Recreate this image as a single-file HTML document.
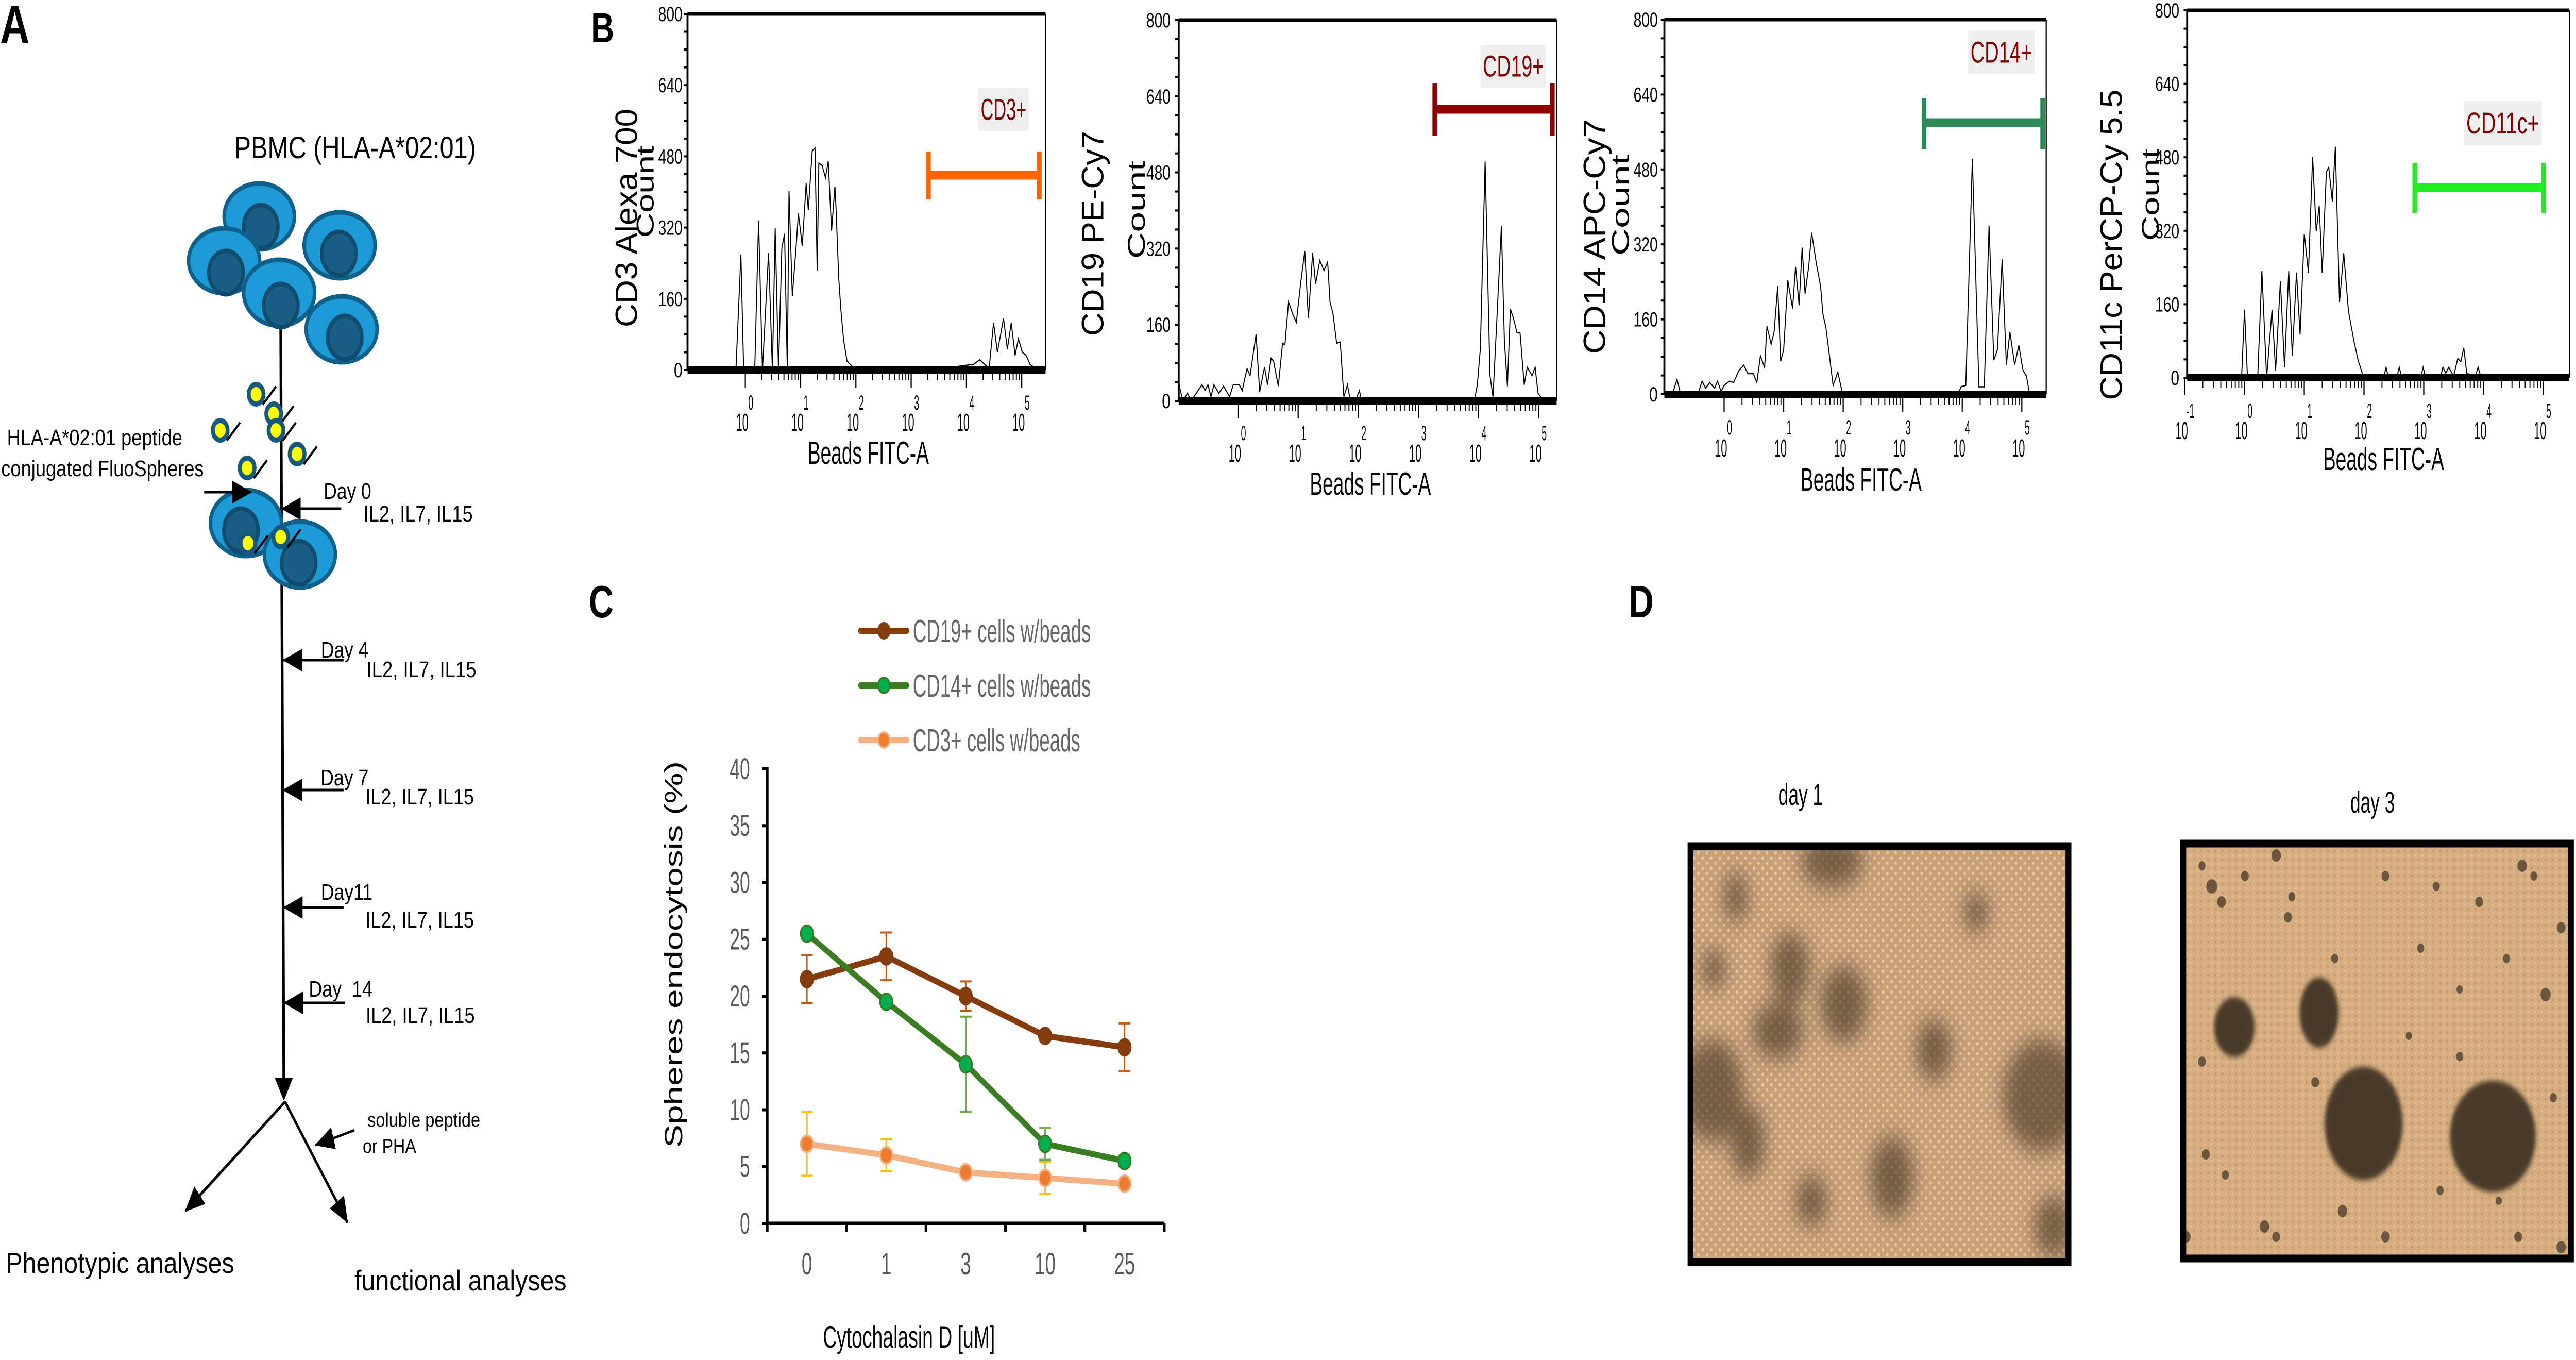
<!DOCTYPE html>
<html><head><meta charset="utf-8"><style>
html,body{margin:0;padding:0;background:#fff;overflow:hidden;width:100%;height:100%}
svg{display:block;width:100vw;height:100vh}
text{font-family:"Liberation Sans",sans-serif}
</style></head><body>
<svg id="fig" xmlns="http://www.w3.org/2000/svg" viewBox="0 0 6598 2639" preserveAspectRatio="none">
<defs>
<marker id="arr" markerUnits="userSpaceOnUse" markerWidth="50" markerHeight="44" refX="48" refY="22" orient="auto"><path d="M0,0 L50,22 L0,44 Z" fill="#000"/></marker>
<filter id="blur1" x="-50%" y="-50%" width="200%" height="200%"><feGaussianBlur stdDeviation="22"/></filter>
<filter id="blur2" x="-50%" y="-50%" width="200%" height="200%"><feGaussianBlur stdDeviation="5"/></filter>
<pattern id="dots1" width="22" height="20" patternUnits="userSpaceOnUse"><circle cx="5" cy="5" r="3.5" fill="#f3d39c" opacity="0.85"/><circle cx="16" cy="15" r="3.5" fill="#f0cf98" opacity="0.8"/></pattern>
<pattern id="dots3" width="18" height="16" patternUnits="userSpaceOnUse"><circle cx="4" cy="4" r="3" fill="#b58c62" opacity="0.55"/><circle cx="13" cy="12" r="2.5" fill="#e8c79a" opacity="0.7"/></pattern>
<clipPath id="clipD1"><rect x="4330" y="1642" width="968" height="807"/></clipPath>
<clipPath id="clipD3"><rect x="5592" y="1637" width="993" height="805"/></clipPath>
</defs>

<text x="0" y="84" font-size="105" font-weight="bold">A</text>
<text x="1514" y="82" font-size="82" font-weight="bold">B</text>
<text x="1508" y="1198" font-size="88" font-weight="bold">C</text>
<text x="4172" y="1198" font-size="88" font-weight="bold">D</text>

<g id="panelA">
<text x="600" y="307" font-size="60" textLength="619" lengthAdjust="spacingAndGlyphs">PBMC (HLA-A*02:01)</text>
<line x1="719" y1="620" x2="727" y2="2100" stroke="#000" stroke-width="7"/>
<path d="M704,2092 L750,2092 L727,2136 Z" fill="#000"/>
<g stroke-width="9">
<ellipse cx="664" cy="420" rx="90" ry="64" fill="#1c9bd7" stroke="#10608c"/><ellipse cx="668" cy="440" rx="44" ry="42" fill="#1a5e85" stroke="#0f4c6e"/>
<ellipse cx="574" cy="506" rx="91" ry="63" fill="#1c9bd7" stroke="#10608c"/><ellipse cx="579" cy="529" rx="44" ry="42" fill="#1a5e85" stroke="#0f4c6e"/>
<ellipse cx="870" cy="476" rx="91" ry="64" fill="#1c9bd7" stroke="#10608c"/><ellipse cx="868" cy="492" rx="44" ry="42" fill="#1a5e85" stroke="#0f4c6e"/>
<ellipse cx="715" cy="568" rx="91" ry="64" fill="#1c9bd7" stroke="#10608c"/><ellipse cx="719" cy="593" rx="44" ry="42" fill="#1a5e85" stroke="#0f4c6e"/>
<ellipse cx="875" cy="639" rx="91" ry="64" fill="#1c9bd7" stroke="#10608c"/><ellipse cx="883" cy="655" rx="44" ry="42" fill="#1a5e85" stroke="#0f4c6e"/>
<ellipse cx="630" cy="1015" rx="91" ry="64" fill="#1c9bd7" stroke="#10608c"/><ellipse cx="617" cy="1029" rx="44" ry="42" fill="#1a5e85" stroke="#0f4c6e"/>
<ellipse cx="768" cy="1076" rx="91" ry="64" fill="#1c9bd7" stroke="#10608c"/><ellipse cx="765" cy="1092" rx="44" ry="42" fill="#1a5e85" stroke="#0f4c6e"/>
</g>
<g>
<g transform="translate(656,765)"><circle r="24" fill="#17587d"/><circle r="14" fill="#ffff00"/><line x1="17" y1="20" x2="51" y2="-15" stroke="#000" stroke-width="5"/></g>
<g transform="translate(701,803)"><circle r="24" fill="#17587d"/><circle r="14" fill="#ffff00"/><line x1="17" y1="20" x2="51" y2="-15" stroke="#000" stroke-width="5"/></g>
<g transform="translate(707,835)"><circle r="24" fill="#17587d"/><circle r="14" fill="#ffff00"/><line x1="17" y1="20" x2="51" y2="-15" stroke="#000" stroke-width="5"/></g>
<g transform="translate(564,835)"><circle r="24" fill="#17587d"/><circle r="14" fill="#ffff00"/><line x1="17" y1="20" x2="51" y2="-15" stroke="#000" stroke-width="5"/></g>
<g transform="translate(761,881)"><circle r="24" fill="#17587d"/><circle r="14" fill="#ffff00"/><line x1="17" y1="20" x2="51" y2="-15" stroke="#000" stroke-width="5"/></g>
<g transform="translate(633,908)"><circle r="24" fill="#17587d"/><circle r="14" fill="#ffff00"/><line x1="17" y1="20" x2="51" y2="-15" stroke="#000" stroke-width="5"/></g>
<g transform="translate(635,1054)"><circle r="24" fill="#17587d"/><circle r="14" fill="#ffff00"/><line x1="17" y1="20" x2="51" y2="-15" stroke="#000" stroke-width="5"/></g>
<g transform="translate(719,1042)"><circle r="24" fill="#17587d"/><circle r="14" fill="#ffff00"/><line x1="17" y1="20" x2="51" y2="-15" stroke="#000" stroke-width="5"/></g>
</g>
<text x="18" y="864" font-size="44" textLength="449" lengthAdjust="spacingAndGlyphs">HLA-A*02:01 peptide</text>
<text x="3" y="924" font-size="44" textLength="519" lengthAdjust="spacingAndGlyphs">conjugated FluoSpheres</text>
<line x1="523" y1="955" x2="643" y2="955" stroke="#000" stroke-width="5" marker-end="url(#arr)"/>

<g>
<line x1="874" y1="987" x2="722" y2="987" stroke="#000" stroke-width="5" marker-end="url(#arr)"/>
<text x="829" y="968" font-size="44" textLength="122" lengthAdjust="spacingAndGlyphs">Day 0</text>
<text x="931" y="1012" font-size="44" textLength="280" lengthAdjust="spacingAndGlyphs">IL2, IL7, IL15</text></g>
<g>
<line x1="880" y1="1281" x2="726" y2="1281" stroke="#000" stroke-width="5" marker-end="url(#arr)"/>
<text x="822" y="1276" font-size="44" textLength="122" lengthAdjust="spacingAndGlyphs">Day 4</text>
<text x="939" y="1314" font-size="44" textLength="281" lengthAdjust="spacingAndGlyphs">IL2, IL7, IL15</text></g>
<g>
<line x1="880" y1="1533" x2="726" y2="1533" stroke="#000" stroke-width="5" marker-end="url(#arr)"/>
<text x="821" y="1524" font-size="44" textLength="123" lengthAdjust="spacingAndGlyphs">Day 7</text>
<text x="936" y="1561" font-size="44" textLength="278" lengthAdjust="spacingAndGlyphs">IL2, IL7, IL15</text></g>
<g>
<line x1="880" y1="1761" x2="727" y2="1761" stroke="#000" stroke-width="5" marker-end="url(#arr)"/>
<text x="822" y="1746" font-size="44" textLength="132" lengthAdjust="spacingAndGlyphs">Day11</text>
<text x="936" y="1800" font-size="44" textLength="278" lengthAdjust="spacingAndGlyphs">IL2, IL7, IL15</text></g>
<g>
<line x1="884" y1="1946" x2="728" y2="1946" stroke="#000" stroke-width="5" marker-end="url(#arr)"/>
<text x="791" y="1934" font-size="44" textLength="163" lengthAdjust="spacingAndGlyphs" xml:space="preserve">Day  14</text>
<text x="937" y="1985" font-size="44" textLength="279" lengthAdjust="spacingAndGlyphs">IL2, IL7, IL15</text></g>

<line x1="730" y1="2138" x2="475" y2="2350" stroke="#000" stroke-width="6" marker-end="url(#arr)"/>
<line x1="730" y1="2138" x2="890" y2="2372" stroke="#000" stroke-width="6" marker-end="url(#arr)"/>
<line x1="908" y1="2193" x2="808" y2="2222" stroke="#000" stroke-width="5" marker-end="url(#arr)"/>
<text x="941" y="2186" font-size="38" textLength="289" lengthAdjust="spacingAndGlyphs">soluble peptide</text>
<text x="929" y="2237" font-size="38" textLength="137" lengthAdjust="spacingAndGlyphs">or PHA</text>
<text x="15" y="2470" font-size="56" textLength="585" lengthAdjust="spacingAndGlyphs">Phenotypic analyses</text>
<text x="908" y="2504" font-size="56" textLength="543" lengthAdjust="spacingAndGlyphs">functional analyses</text>
</g>

<g id="panelB"></g>
<g id="panelC"></g>

<g id="panelD">
<text x="4612" y="1562" font-size="58" text-anchor="middle" textLength="114" lengthAdjust="spacingAndGlyphs">day 1</text>
<text x="6077" y="1577" font-size="58" text-anchor="middle" textLength="114" lengthAdjust="spacingAndGlyphs">day 3</text>
<g clip-path="url(#clipD1)">
<rect x="4323" y="1635" width="982" height="821" fill="#c9a07c"/>
<rect x="4323" y="1635" width="982" height="821" fill="url(#dots1)"/>
<g filter="url(#blur1)" fill="#3e3024" opacity="0.6">
<ellipse cx="4692" cy="1672" rx="80" ry="50"/><ellipse cx="4723" cy="1948" rx="60" ry="75"/>
<ellipse cx="4585" cy="1879" rx="50" ry="70"/><ellipse cx="4554" cy="2000" rx="65" ry="55"/>
<ellipse cx="4385" cy="2116" rx="80" ry="100"/><ellipse cx="4477" cy="2215" rx="45" ry="70"/>
<ellipse cx="4846" cy="2284" rx="55" ry="80"/><ellipse cx="5230" cy="2126" rx="100" ry="110"/>
<ellipse cx="4954" cy="2037" rx="45" ry="60"/><ellipse cx="5062" cy="1770" rx="30" ry="40"/>
<ellipse cx="4446" cy="1741" rx="30" ry="50"/><ellipse cx="4640" cy="2330" rx="40" ry="50"/>
<ellipse cx="5260" cy="2380" rx="50" ry="60"/><ellipse cx="4390" cy="1880" rx="30" ry="40"/>
</g></g>
<rect x="4330" y="1642" width="968" height="807" fill="none" stroke="#000" stroke-width="15"/>
<g clip-path="url(#clipD3)">
<rect x="5585" y="1630" width="1010" height="819" fill="#d6ae80"/>
<rect x="5585" y="1630" width="1010" height="819" fill="url(#dots3)"/>
<g filter="url(#blur2)" fill="#4a3a2b">
<ellipse cx="5723" cy="1993" rx="52" ry="58"/><ellipse cx="5940" cy="1965" rx="50" ry="68"/>
<ellipse cx="6054" cy="2180" rx="100" ry="110"/><ellipse cx="6385" cy="2205" rx="110" ry="108"/>
</g>
<g fill="#5a4634" opacity="0.85">
<circle cx="5665" cy="1720" r="14"/><circle cx="5690" cy="1750" r="11"/><circle cx="5750" cy="1700" r="10"/><circle cx="5830" cy="1660" r="12"/><circle cx="5860" cy="1780" r="10"/><circle cx="5870" cy="1740" r="9"/><circle cx="5640" cy="1680" r="9"/><circle cx="6110" cy="1700" r="10"/><circle cx="6240" cy="1720" r="9"/><circle cx="6350" cy="1750" r="10"/><circle cx="6460" cy="1680" r="12"/><circle cx="6490" cy="1700" r="9"/><circle cx="6560" cy="1800" r="11"/><circle cx="6420" cy="1860" r="9"/><circle cx="6520" cy="1930" r="13"/><circle cx="6200" cy="1840" r="9"/><circle cx="6300" cy="1920" r="8"/><circle cx="5640" cy="2060" r="10"/><circle cx="5650" cy="2240" r="10"/><circle cx="5700" cy="2280" r="9"/><circle cx="5800" cy="2380" r="12"/><circle cx="5830" cy="2400" r="10"/><circle cx="5600" cy="2400" r="11"/><circle cx="6000" cy="2350" r="12"/><circle cx="6110" cy="2400" r="11"/><circle cx="6250" cy="2310" r="9"/><circle cx="6450" cy="2400" r="10"/><circle cx="6560" cy="2420" r="12"/><circle cx="6540" cy="2130" r="9"/><circle cx="5930" cy="2100" r="10"/><circle cx="6170" cy="2010" r="8"/><circle cx="6300" cy="2050" r="9"/><circle cx="5980" cy="1860" r="9"/><circle cx="6400" cy="2330" r="8"/>
</g></g>
<rect x="5592" y="1637" width="993" height="805" fill="none" stroke="#000" stroke-width="15"/>
</g>
</svg>

<script>
const NS = 'http://www.w3.org/2000/svg';
function mk(parent, tag, attrs, txt){
  const el = document.createElementNS(NS, tag);
  for (const k in attrs) el.setAttribute(k, attrs[k]);
  if (txt !== undefined) el.textContent = txt;
  parent.appendChild(el);
  return el;
}

const cd3Log = [-0.17,-0.08,-0.03,0.17,0.24,0.31,0.42,0.49,0.54,0.60,0.66,0.71,0.76,0.79,0.85,0.92,0.96,1.03,1.10,1.14,1.21,1.26,1.30,1.33,1.39,1.45,1.50,1.56,1.62,1.64,1.69,1.73,1.78,1.84,1.92,1.98,3.79,4.13,4.24,4.41,4.49,4.56,4.67,4.74,4.81,4.88,4.94,5.01,5.08,5.15,5.21,5.26];
const cd3Count = [0,259,0,0,336,0,263,0,319,0,273,306,0,402,166,279,352,279,419,359,492,499,223,465,459,432,469,313,412,366,206,133,66,20,10,0,7,13,23,3,106,40,116,47,106,33,70,40,33,13,7,0];
const cd19Log = [-0.99,-0.92,-0.84,-0.78,-0.6,-0.55,-0.5,-0.45,-0.4,-0.32,-0.24,-0.14,-0.08,0.02,0.07,0.15,0.2,0.3,0.36,0.44,0.49,0.55,0.59,0.67,0.74,0.78,0.84,0.91,0.97,1.04,1.11,1.17,1.24,1.29,1.36,1.43,1.49,1.53,1.58,1.64,1.7,1.76,1.82,1.86,1.95,2.02,2.05,3.93,3.98,4.03,4.11,4.19,4.24,4.3,4.38,4.43,4.48,4.53,4.58,4.64,4.69,4.76,4.81,4.89,4.94,4.99,5.05];
const cd19Count = [40,0,16,0,34,22,34,9,34,16,31,9,34,34,22,68,53,140,19,71,34,90,84,31,121,118,208,183,165,246,314,174,311,246,295,274,292,208,183,121,124,9,34,6,0,22,0,0,34,109,503,53,9,159,367,127,31,193,174,143,143,34,71,53,71,16,6];
const cd14Log = [-1.0,-0.87,-0.79,-0.73,-0.44,-0.37,-0.31,-0.24,-0.16,-0.11,-0.05,0,0.09,0.16,0.25,0.33,0.4,0.49,0.55,0.61,0.68,0.72,0.79,0.84,0.9,0.95,1.0,1.07,1.15,1.2,1.26,1.31,1.36,1.42,1.47,1.55,1.62,1.66,1.71,1.77,1.83,1.91,1.99,3.93,3.98,4.06,4.17,4.28,4.37,4.45,4.53,4.59,4.67,4.74,4.8,4.88,4.95,5.02,5.08,5.13];
const cd14Count = [0,0,32,0,0,28,13,25,13,28,6,19,28,25,51,62,44,44,25,82,57,145,107,133,231,70,95,243,183,272,190,313,215,272,345,278,231,171,142,82,19,47,0,0,16,19,503,16,16,360,73,95,288,63,133,63,104,51,38,0];
const cd11cLog = [-0.05,0,0.05,0.22,0.29,0.37,0.46,0.52,0.6,0.67,0.74,0.8,0.87,0.93,1.0,1.07,1.14,1.2,1.25,1.3,1.37,1.41,1.47,1.52,1.59,1.66,1.74,1.83,1.9,1.98,2.07,2.33,2.37,2.41,2.55,2.59,2.63,2.95,2.99,3.03,3.28,3.32,3.37,3.42,3.5,3.57,3.62,3.67,3.72,3.86,3.91,3.96];
const cd11cCount = [0,148,0,0,232,0,148,16,210,23,232,48,229,94,313,229,481,319,374,229,448,458,384,503,165,271,145,81,39,6,0,0,23,0,0,23,0,0,23,0,0,23,10,23,3,42,35,65,10,0,23,0];
const yTicks = [0,160,320,480,640,800];

const panels = [
 {name:'cd3', logs:cd3Log, counts:cd3Count, L:1761,R:2678,T:27,B:718,x0:1909,dec:141.6,dmin:0,dmax:5,lblY:818,supY:781,tY:878,tX:2224,
  yt:'CD3 Alexa 700', ytX:1604, ytY:423, ytLen:424, cX:1652, cY:372, cLen:179, tickX:1748,
  gate:{x1:2378,x2:2662,y:340,c1:294,c2:387,col:'#ff6600'}, box:{x:2506,y:171,w:129,h:83,t:'CD3+'}},
 {name:'cd19', logs:cd19Log, counts:cd19Count, L:3019,R:3987,T:39,B:778,x0:3171,dec:154,dmin:0,dmax:5,lblY:878,supY:840,tY:938,tX:3510,
  yt:'CD19 PE-Cy7', ytX:2798, ytY:453, ytLen:398, cX:2910, cY:407, cLen:190, tickX:2998,
  gate:{x1:3675,x2:3976,y:212,c1:162,c2:263,col:'#8b0000'}, box:{x:3792,y:87,w:168,h:83,t:'CD19+'}},
 {name:'cd14', logs:cd14Log, counts:cd14Count, L:4263,R:5241,T:38,B:765,x0:4416,dec:152.5,dmin:0,dmax:5,lblY:868,supY:829,tY:930,tX:4767,
  yt:'CD14 APC-Cy7', ytX:4083, ytY:459, ytLen:456, cX:4150, cY:398, cLen:196, tickX:4246,
  gate:{x1:4928,x2:5232,y:238,c1:190,c2:289,col:'#2e8b57'}, box:{x:5041,y:59,w:170,h:85,t:'CD14+'}},
 {name:'cd11c', logs:cd11cLog, counts:cd11cCount, L:5602,R:6581,T:20,B:733,x0:5749,dec:153,dmin:-1,dmax:5,lblY:834,supY:797,tY:890,tX:6105,
  yt:'CD11c PerCP-Cy 5.5', ytX:5407, ytY:475, ytLen:603, cX:5507, cY:378, cLen:178, tickX:5582,
  gate:{x1:6185,x2:6515,y:364,c1:316,c2:413,col:'#22ee22'}, box:{x:6311,y:196,w:199,h:86,t:'CD11c+'}}
];

const gB = document.getElementById('panelB');
panels.forEach(p => {
  const g = mk(gB, 'g', {});
  
  
  const xs = v => p.x0 + v * p.dec;
  const ys = c => p.B - c / 800 * (p.B - p.T);
  const pts = p.logs.map((v, i) => xs(v).toFixed(1) + ',' + ys(p.counts[i]).toFixed(1)).join(' ');
  const pl = mk(g, 'polyline', {points: pts, fill: 'none', stroke: '#000', 'stroke-width': 2.5});
  
  
  mk(g, 'line', {x1:p.L, y1:p.T, x2:p.R, y2:p.T, stroke:'#000', 'stroke-width':7});
  mk(g, 'line', {x1:p.L, y1:p.T, x2:p.L, y2:p.B, stroke:'#000', 'stroke-width':5});
  mk(g, 'line', {x1:p.R, y1:p.T, x2:p.R, y2:p.B, stroke:'#000', 'stroke-width':3});
  const base = mk(g, 'line', {x1:p.L, y1:p.B, x2:p.R, y2:p.B, stroke:'#000', 'stroke-width':14});
  
  
  for (let c = 0; c <= 800; c += 40) {
    mk(g, 'line', {x1:p.L-9, y1:ys(c), x2:p.L, y2:ys(c), stroke:'#000', 'stroke-width':4});
  }
  yTicks.forEach(c => {
    const t = mk(g, 'text', {x:p.tickX, y:ys(c)+14, 'font-size':40, 'text-anchor':'end', textLength: c===0?22:62, lengthAdjust:'spacingAndGlyphs'}, String(c));
    
    
  });
  for (let d = p.dmin; d <= p.dmax; d++) {
    const x = xs(d);
    mk(g, 'line', {x1:x, y1:p.B, x2:x, y2:p.B+34, stroke:'#000', 'stroke-width':3});
    if (d < p.dmax) for (let m = 2; m <= 9; m++) {
      const xm = xs(d + Math.log10(m));
      mk(g, 'line', {x1:xm, y1:p.B, x2:xm, y2:p.B+20, stroke:'#000', 'stroke-width':2.5});
    }
    const t = mk(g, 'text', {x:x-8, y:p.lblY+18, 'font-size':48, 'text-anchor':'middle', textLength:32, lengthAdjust:'spacingAndGlyphs'}, '10');
    
    
    mk(g, 'text', {x:x+14, y:p.supY+14, 'font-size':40, 'text-anchor':'middle', textLength: d<0?22:13, lengthAdjust:'spacingAndGlyphs'}, String(d));
  }
  const xt = mk(g, 'text', {x:p.tX, y:p.tY+22, 'font-size':62, 'text-anchor':'middle', textLength:310, lengthAdjust:'spacingAndGlyphs'}, 'Beads FITC-A');
  
  
  const yt = mk(g, 'text', {transform:`translate(${p.ytX},${p.ytY}) rotate(-90)`, x:0, y:28, 'font-size':80, 'text-anchor':'middle', textLength:p.ytLen, lengthAdjust:'spacingAndGlyphs'}, p.yt);
  
  
  const ct = mk(g, 'text', {transform:`translate(${p.cX},${p.cY}) rotate(-90)`, x:0, y:22, 'font-size':62, 'text-anchor':'middle', textLength:p.cLen, lengthAdjust:'spacingAndGlyphs'}, 'Count');
  
  
  const G = p.gate;
  const gg = mk(g, 'g', {stroke:G.col});
  
  
  mk(gg, 'line', {x1:G.x1, y1:G.y, x2:G.x2, y2:G.y, 'stroke-width':17});
  mk(gg, 'line', {x1:G.x1, y1:G.c1, x2:G.x1, y2:G.c2, 'stroke-width':12});
  mk(gg, 'line', {x1:G.x2, y1:G.c1, x2:G.x2, y2:G.c2, 'stroke-width':12});
  const b = p.box;
  mk(g, 'rect', {x:b.x, y:b.y, width:b.w, height:b.h, fill:'#efefef'});
  const bt = mk(g, 'text', {x:b.x+b.w/2, y:b.y+b.h/2+20, 'font-size':58, 'text-anchor':'middle', fill:'#800000', textLength:b.w-12, lengthAdjust:'spacingAndGlyphs'}, b.t);
  
  
});

const doseLabels = ['0','1','3','10','25'];
const cd19Vals = [21.5,23.5,20,16.5,15.5];
const cd19Err  = [2.1,2.1,1.3,0.3,2.1];
const cd14Vals = [25.5,19.5,14,7,5.5];
const cd14Err  = [0,0,4.2,1.4,0.5];
const cd3Vals  = [7,6,4.5,4,3.5];
const cd3Err   = [2.8,1.4,0.3,1.4,0.3];
const cYTicks  = [0,5,10,15,20,25,30,35,40];

(function(){
  const g = document.getElementById('panelC');
  const AX = 1965, AR = 2982, Y0 = 2374, YMAX = 40, YTOP = 1492;
  const slot = (AR - AX) / doseLabels.length;
  const xC = i => AX + slot * (i + 0.5);
  const yC = v => Y0 - v / YMAX * (Y0 - YTOP);
  const ya = mk(g, 'line', {x1:AX, y1:YTOP-4, x2:AX, y2:Y0+4, stroke:'#000', 'stroke-width':7});
  
  
  const xa = mk(g, 'line', {x1:AX-4, y1:Y0, x2:AR, y2:Y0, stroke:'#000', 'stroke-width':7});
  
  
  cYTicks.forEach(v => {
    mk(g, 'line', {x1:AX-13, y1:yC(v), x2:AX, y2:yC(v), stroke:'#000', 'stroke-width':6});
    const t = mk(g, 'text', {x:1921, y:yC(v)+20, 'font-size':58, fill:'#595959', 'text-anchor':'end', textLength: v<10?26:52, lengthAdjust:'spacingAndGlyphs'}, String(v));
    
    
  });
  for (let i = 0; i <= doseLabels.length; i++) {
    mk(g, 'line', {x1:AX+slot*i, y1:Y0, x2:AX+slot*i, y2:Y0+16, stroke:'#000', 'stroke-width':7});
  }
  doseLabels.forEach((l, i) => {
    const t = mk(g, 'text', {x:xC(i), y:2473, 'font-size':60, fill:'#595959', 'text-anchor':'middle', textLength: l.length*27, lengthAdjust:'spacingAndGlyphs'}, l);
    
    
  });
  const xt = mk(g, 'text', {x:2328, y:2615, 'font-size':60, 'text-anchor':'middle', textLength:441, lengthAdjust:'spacingAndGlyphs'}, 'Cytochalasin D [uM]');
  
  
  const yt = mk(g, 'text', {transform:'translate(1725,1852) rotate(-90)', x:0, y:22, 'font-size':64, 'text-anchor':'middle', textLength:750, lengthAdjust:'spacingAndGlyphs'}, 'Spheres endocytosis (%)');
  
  

  const series = [
    {key:'cd3', label:'CD3+ cells w/beads', vals:cd3Vals, err:cd3Err, line:'#f4b183', mk:'#ed7d31', mks:'#f4b183', eb:'#ffc000', ly:1436, lw:429},
    {key:'cd19', label:'CD19+ cells w/beads', vals:cd19Vals, err:cd19Err, line:'#843c0c', mk:'#843c0c', mks:'#843c0c', eb:'#c55a11', ly:1224, lw:456},
    {key:'cd14', label:'CD14+ cells w/beads', vals:cd14Vals, err:cd14Err, line:'#3a7d22', mk:'#00b050', mks:'#3a7d22', eb:'#70ad47', ly:1330, lw:456}
  ];
  series.forEach(s => {
    const sg = mk(g, 'g', {});
    
    
    s.vals.forEach((v, i) => {
      if (s.err[i] > 0) {
        const x = xC(i), y1 = yC(v - s.err[i]), y2 = yC(v + s.err[i]);
        const eb = mk(sg, 'path', {d:`M${x},${y1}V${y2}M${x-15},${y1}H${x+15}M${x-15},${y2}H${x+15}`, stroke:s.eb, 'stroke-width':4, fill:'none'});
        
        
      }
    });
    const pts = s.vals.map((v, i) => xC(i) + ',' + yC(v)).join(' ');
    const ln = mk(sg, 'polyline', {points:pts, fill:'none', stroke:s.line, 'stroke-width':12, 'stroke-linejoin':'round'});
    
    
    s.vals.forEach((v, i) => {
      const c = mk(sg, 'circle', {cx:xC(i), cy:yC(v), r:16, fill:s.mk, stroke:s.mks, 'stroke-width':4});
      
      
    });
    const lg = mk(g, 'g', {});
    
    
    mk(lg, 'line', {x1:2204, y1:s.ly, x2:2323, y2:s.ly, stroke:s.line, 'stroke-width':12, 'stroke-linecap':'round'});
    mk(lg, 'circle', {cx:2264, cy:s.ly, r:15, fill:s.mk, stroke:s.mks, 'stroke-width':4});
    mk(lg, 'text', {x:2338, y:s.ly+22, 'font-size':62, fill:'#666666', textLength:s.lw, lengthAdjust:'spacingAndGlyphs'}, s.label);
  });
})();
</script>
</body></html>
